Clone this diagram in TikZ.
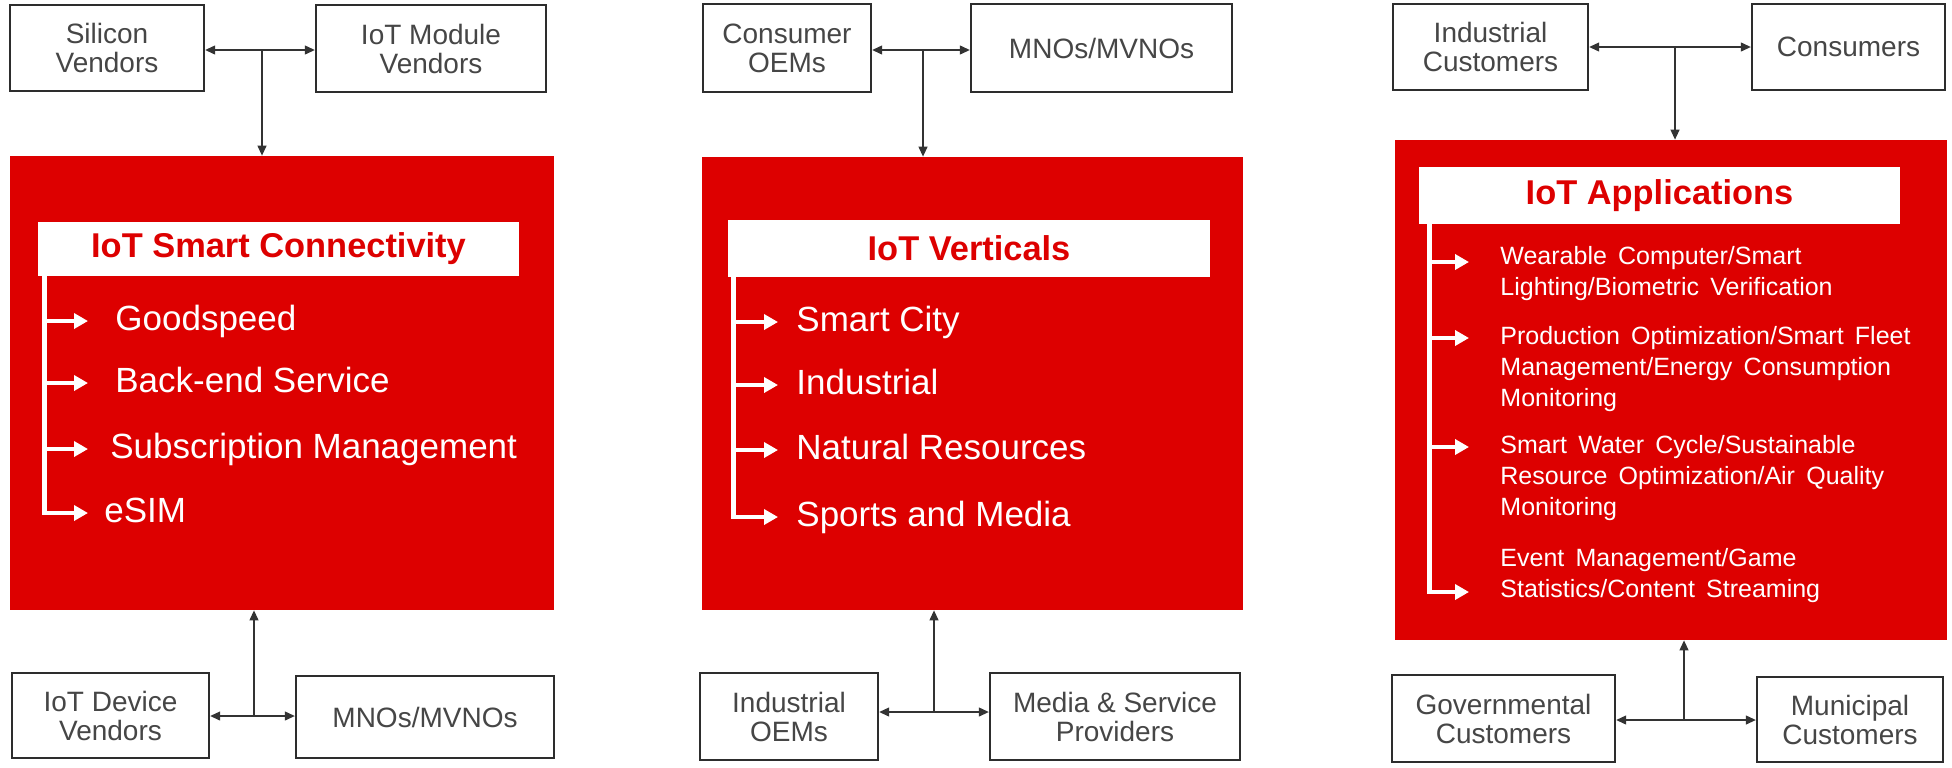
\documentclass[tikz,border=0pt]{standalone}
\usepackage{fontspec}
\setmainfont{Liberation Sans}
\usetikzlibrary{arrows.meta}
\definecolor{iotred}{RGB}{221,0,0}
\definecolor{lbl}{RGB}{70,70,70}
\definecolor{bord}{RGB}{45,45,45}
\newcommand\myWideSpace{\spaceskip 0.45em\relax}
\begin{document}
\begin{tikzpicture}[x=0.5pt,y=-0.5pt,
  ext/.style={draw=bord, line width=1.2pt, fill=white, text=lbl, font=\fontsize{14}{14.5}\selectfont, align=center, inner sep=0pt},
  redbox/.style={fill=iotred, draw=none, inner sep=0pt},
  ttl/.style={fill=white, text=iotred, font=\fontsize{17.2}{18}\selectfont\bfseries, inner sep=0pt},
  itm/.style={text=white, font=\fontsize{17.5}{19}\selectfont, anchor=west, inner sep=0pt, text height=13pt, text depth=3.8pt},
  itms/.style={text=white, font={\fontsize{12.5}{15.5}\selectfont\myWideSpace}, anchor=west, align=left, inner sep=0pt},
  link/.style={draw=black!80, line width=0.6pt, -{Triangle[length=5pt,width=4.5pt]}},
  warrow/.style={draw=white, line width=2.2pt, -{Triangle[length=7pt,width=7.5pt]}}]
\fill[white] (0,0) rectangle (1952,767);
\useasboundingbox (0,0) rectangle (1952,767);

% ---------- left panel ----------
\node[ext, minimum width=97pt, minimum height=43pt] (sv) at (107,48) {Silicon\\Vendors};
\node[ext, minimum width=115pt, minimum height=43.5pt] (imv) at (431,48.5) {IoT Module\\Vendors};
\node[redbox, minimum width=272pt, minimum height=227pt] (r1) at (282,383) {};
\node[ttl, minimum width=240.5pt, minimum height=27pt] (t1) at (278.5,249) {IoT Smart Connectivity};
\node[itm] (g1) at (115,321) {Goodspeed};
\node[itm] (g2) at (115,383) {Back-end Service};
\node[itm] (g3) at (110,449) {Subscription Management};
\node[itm] (g4) at (104,513) {eSIM};
\coordinate (tr1) at ([xshift=3.5pt]t1.south west);
\coordinate (tip1) at (88,0);
\draw[warrow] (tr1) -- (tr1 |- g4.west) -- (tip1 |- g4.west);
\foreach \n in {g1,g2,g3} \draw[warrow] (tr1 |- \n.west) -- (tip1 |- \n.west);
\node[ext, minimum width=98.5pt, minimum height=42.5pt] (idv) at (110.5,715.5) {IoT Device\\Vendors};
\node[ext, minimum width=129pt, minimum height=41pt] (mno1) at (425,717) {MNOs/MVNOs};
\coordinate (j1) at (262,50);
\draw[link] (j1) -- (sv.east |- j1);
\draw[link] (j1) -- (imv.west |- j1);
\draw[link] (j1) -- (j1 |- r1.north);
\coordinate (k1) at (254,716);
\draw[link] (k1) -- (idv.east |- k1);
\draw[link] (k1) -- (mno1.west |- k1);
\draw[link] (k1) -- (k1 |- r1.south);

% ---------- middle panel ----------
\node[ext, minimum width=84pt, minimum height=44pt] (coem) at (787,48) {Consumer\\OEMs};
\node[ext, minimum width=130.5pt, minimum height=44pt] (mno2) at (1101.5,48) {MNOs/MVNOs};
\node[redbox, minimum width=270.5pt, minimum height=226.5pt] (r2) at (972.5,383.5) {};
\node[ttl, minimum width=241pt, minimum height=28.5pt] (t2) at (969,248.5) {IoT Verticals};
\node[itm] (v1) at (796,322) {Smart City};
\node[itm] (v2) at (796,385) {Industrial};
\node[itm] (v3) at (796,450) {Natural Resources};
\node[itm] (v4) at (796,517) {Sports and Media};
\coordinate (tr2) at ([xshift=3pt]t2.south west);
\coordinate (tip2) at (778,0);
\draw[warrow] (tr2) -- (tr2 |- v4.west) -- (tip2 |- v4.west);
\foreach \n in {v1,v2,v3} \draw[warrow] (tr2 |- \n.west) -- (tip2 |- \n.west);
\node[ext, minimum width=89pt, minimum height=43.5pt] (ioem) at (789,716.5) {Industrial\\OEMs};
\node[ext, minimum width=125pt, minimum height=43.5pt] (msp) at (1115,716.5) {Media \& Service\\Providers};
\coordinate (j2) at (923,50);
\draw[link] (j2) -- (coem.east |- j2);
\draw[link] (j2) -- (mno2.west |- j2);
\draw[link] (j2) -- (j2 |- r2.north);
\coordinate (k2) at (934,712);
\draw[link] (k2) -- (ioem.east |- k2);
\draw[link] (k2) -- (msp.west |- k2);
\draw[link] (k2) -- (k2 |- r2.south);

% ---------- right panel ----------
\node[ext, minimum width=97.5pt, minimum height=43pt] (ic) at (1490.5,47) {Industrial\\Customers};
\node[ext, minimum width=96.5pt, minimum height=43pt] (cons) at (1848.5,47) {Consumers};
\node[redbox, minimum width=276pt, minimum height=250pt] (r3) at (1671,390) {};
\node[ttl, minimum width=240.5pt, minimum height=28.5pt] (t3) at (1659.5,195.5) {IoT Applications};
\node[itms] (h1) at (1500,274) {Wearable Computer/Smart\\Lighting/Biometric Verification};
\node[itms] (h2) at (1500,369) {Production Optimization/Smart Fleet\\Management/Energy Consumption\\Monitoring};
\node[itms] (h3) at (1500,478) {Smart Water Cycle/Sustainable\\Resource Optimization/Air Quality\\Monitoring};
\node[itms] (h4) at (1500,576) {Event Management/Game\\Statistics/Content Streaming};
\coordinate (tr3) at ([xshift=5.5pt]t3.south west);
\coordinate (a31) at (1469,262);
\coordinate (a32) at (1469,338);
\coordinate (a33) at (1469,447);
\coordinate (a34) at (1469,592);
\draw[warrow] (tr3) -- (tr3 |- a34) -- (a34);
\foreach \n in {a31,a32,a33} \draw[warrow] (tr3 |- \n) -- (\n);
\node[ext, minimum width=111.5pt, minimum height=43.5pt] (gov) at (1503.5,718.5) {Governmental\\Customers};
\node[ext, minimum width=93pt, minimum height=42.5pt] (mun) at (1850,719.5) {Municipal\\Customers};
\coordinate (j3) at (1675,47);
\draw[link] (j3) -- (ic.east |- j3);
\draw[link] (j3) -- (cons.west |- j3);
\draw[link] (j3) -- (j3 |- r3.north);
\coordinate (k3) at (1684,720);
\draw[link] (k3) -- (gov.east |- k3);
\draw[link] (k3) -- (mun.west |- k3);
\draw[link] (k3) -- (k3 |- r3.south);
\end{tikzpicture}
\end{document}
